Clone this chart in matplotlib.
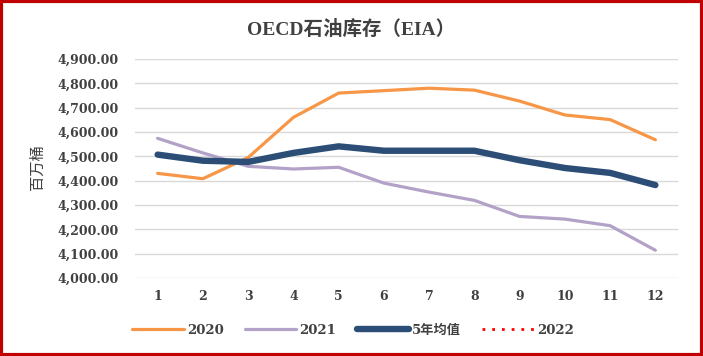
import matplotlib
matplotlib.use("Agg")
import matplotlib.pyplot as plt
from matplotlib.patches import Rectangle

months = [1, 2, 3, 4, 5, 6, 7, 8, 9, 10, 11, 12]
s2020 = [4430, 4408, 4495, 4660, 4760, 4770, 4780, 4772, 4727, 4670, 4651, 4568]
s2021 = [4574, 4514, 4459, 4448, 4455, 4390, 4353, 4319, 4253, 4242, 4215, 4114]
avg5 = [4507, 4482, 4477, 4514, 4541, 4523, 4523, 4523, 4484, 4452, 4432, 4382]
s2022 = []
yticks = [4000, 4100, 4200, 4300, 4400, 4500, 4600, 4700, 4800, 4900]

FAM = ['DejaVu Serif', 'Noto Sans CJK SC', 'DejaVu Sans']
plt.rcParams['font.family'] = FAM
TXT = '#404040'

fig = plt.figure(figsize=(7.03, 3.56), dpi=100)
ax = fig.add_axes([135/703, 1-278/356, (678-135)/703, (278-59)/356])

ax.plot(months, s2020, color='#F79646', lw=2.3, label='2020', solid_capstyle='round')
ax.plot(months, s2021, color='#B3A2C7', lw=2.3, label='2021', solid_capstyle='round')
ax.plot(months, avg5, color='#2C4D75', lw=4.6, label='5年均值', solid_capstyle='round')
ax.plot(months[:len(s2022)], s2022, color='#FF0000', lw=2, ls=(0, (1, 2.5)), label='2022')

ax.set_xlim(0.5, 12.5)
ax.set_ylim(4000, 4900)
ax.set_yticks(yticks)
ax.set_yticklabels([f"{v:,.2f}" for v in yticks], fontsize=9, fontweight='bold', color=TXT)
ax.set_xticks(months)
ax.set_xticklabels([str(m) for m in months], fontsize=9, fontweight='bold', color=TXT)
ax.tick_params(length=0)
ax.tick_params(axis='x', pad=9)
ax.tick_params(axis='y', pad=12)
ax.grid(axis='y', color='#D9D9D9', lw=1)
ax.set_axisbelow(True)
for sp in ax.spines.values():
    sp.set_visible(False)

fig.text(0.5, 1-29/356, 'OECD石油库存（EIA）', ha='center', va='center',
         fontsize=14, fontweight='bold', color=TXT,
         family=['Liberation Serif', 'Noto Sans CJK SC', 'DejaVu Sans'])
fig.text(37/703, 1-167/356, '百万桶', rotation=90, ha='center', va='center',
         fontsize=11, color=TXT, family=['Noto Sans CJK SC', 'DejaVu Sans'])

leg = fig.legend(loc='center', bbox_to_anchor=(353/703, 1-330/356), ncol=4, frameon=False,
                 handlelength=3.9, columnspacing=1.6, handletextpad=0.25,
                 prop={'size': 9.5, 'weight': 'bold', 'family': FAM})
for t in leg.get_texts():
    t.set_color(TXT)

fig.patches.append(Rectangle((0.002, 0.003), 0.996, 0.994, transform=fig.transFigure,
                             fill=False, edgecolor='#C00000', lw=3))

fig.savefig('out.png', dpi=100)
